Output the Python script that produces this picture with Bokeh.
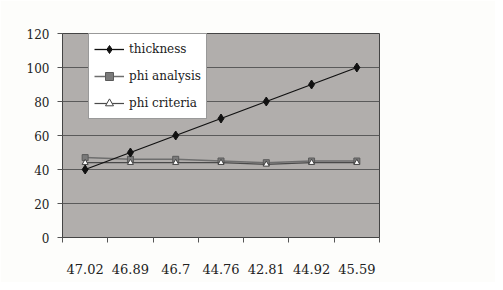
from bokeh.plotting import figure
from bokeh.models import FixedTicker, Range1d, Legend, LegendItem, ColumnDataSource
from bokeh.embed import file_html
from bokeh.resources import INLINE

categories = ["47.02", "46.89", "46.7", "44.76", "42.81", "44.92", "45.59"]
thickness = [40, 50, 60, 70, 80, 90, 100]
phi_analysis = [47, 46, 46, 45, 44, 45, 45]
phi_criteria = [44, 44, 44, 44, 43, 44, 44]
y_ticks = [0, 20, 40, 60, 80, 100, 120]

xpos = [i + 0.5 for i in range(len(categories))]
src = ColumnDataSource(dict(x=xpos, t=thickness, a=phi_analysis, c=phi_criteria))

FONT = "DejaVu Serif"

p = figure(width=495, height=282, output_backend="svg", toolbar_location=None,
           x_range=Range1d(0, len(categories)), y_range=Range1d(0, 120),
           min_border_left=62, min_border_right=116, min_border_top=33, min_border_bottom=45)
p.background_fill_color = "#b1aeac"
p.border_fill_color = "#fdfdfb"
p.outline_line_color = "#444444"
p.outline_line_width = 1

# axes
p.xaxis.ticker = FixedTicker(ticks=xpos, minor_ticks=list(range(len(categories) + 1)))
p.xaxis.major_label_overrides = {x: c for x, c in zip(xpos, categories)}
p.xaxis.major_tick_line_color = None
p.xaxis.minor_tick_out = 5
p.xaxis.minor_tick_in = 0
p.xaxis.minor_tick_line_color = "#555555"
p.xaxis.axis_line_color = "#444444"
p.xaxis.major_label_standoff = 20
p.xaxis.major_label_text_font = FONT
p.xaxis.major_label_text_font_size = "13px"
p.xaxis.major_label_text_color = "#222222"

p.yaxis.ticker = FixedTicker(ticks=y_ticks, minor_ticks=[])
p.yaxis.major_tick_out = 5
p.yaxis.major_tick_in = 0
p.yaxis.major_tick_line_color = "#555555"
p.yaxis.axis_line_color = "#444444"
p.yaxis.major_label_standoff = 8
p.yaxis.major_label_text_font = FONT
p.yaxis.major_label_text_font_size = "12px"
p.yaxis.major_label_text_color = "#222222"

p.xgrid.grid_line_color = None
p.ygrid.ticker = FixedTicker(ticks=y_ticks)
p.ygrid.grid_line_color = "#5a5a5a"
p.ygrid.grid_line_width = 1

# series
la = p.line("x", "a", source=src, line_color="#6e6e6e", line_width=1.5)
ma = p.scatter("x", "a", source=src, marker="square", size=6, fill_color="#7a7a7a", line_color="#5a5a5a")
lc = p.line("x", "c", source=src, line_color="#4a4a4a", line_width=1.2)
mc = p.scatter("x", "c", source=src, marker="triangle", size=6, fill_color="white", line_color="#444444")
lt = p.line("x", "t", source=src, line_color="#111111", line_width=1.3)
mt = p.scatter("x", "t", source=src, marker="diamond", size=9, fill_color="#111111", line_color="#111111")

legend = Legend(items=[
    LegendItem(label="thickness", renderers=[lt, mt]),
    LegendItem(label="phi analysis", renderers=[la, ma]),
    LegendItem(label="phi criteria", renderers=[lc, mc]),
])
legend.label_text_font = FONT
legend.label_text_font_size = "12px"
legend.label_text_color = "#222222"
legend.glyph_width = 30
legend.glyph_height = 20
legend.label_height = 20
legend.spacing = 7
legend.padding = 5
legend.margin = 0
legend.border_line_color = "#333333"
legend.border_line_width = 1
legend.background_fill_color = "white"
legend.background_fill_alpha = 1
p.add_layout(legend, "center")
p.legend.location = (26, 118)

open("out.html", "w").write(file_html(p, INLINE))
